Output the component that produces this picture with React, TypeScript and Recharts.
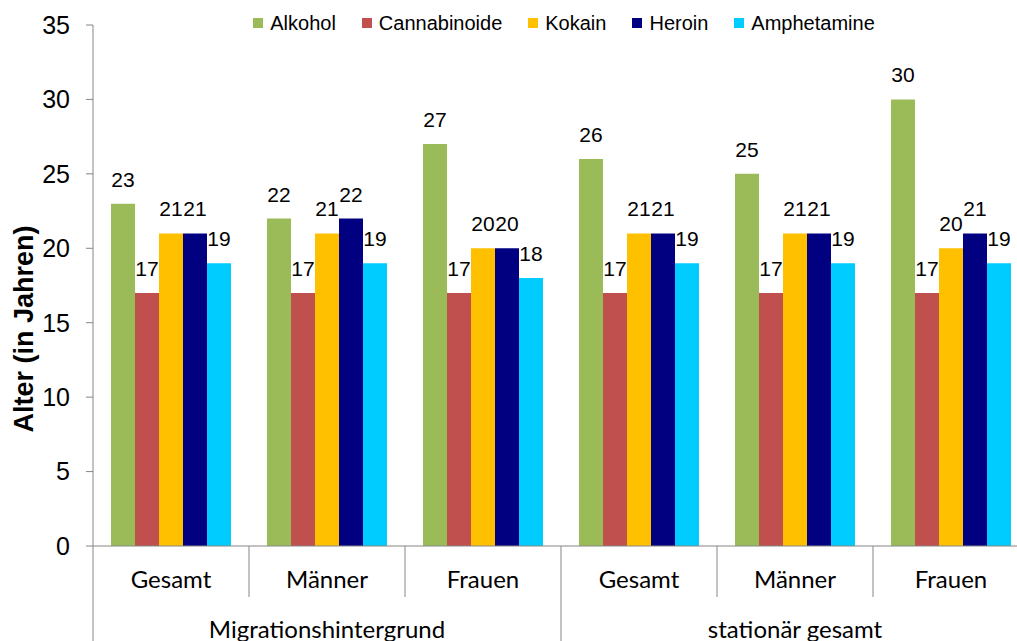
import { BarChart, Bar, XAxis, YAxis, LabelList } from "recharts";

const categories = ["Gesamt", "Männer", "Frauen", "Gesamt", "Männer", "Frauen"];
const groups = ["Migrationshintergrund", "stationär gesamt"];

const alkohol = [23, 22, 27, 26, 25, 30];
const cannabinoide = [17, 17, 17, 17, 17, 17];
const kokain = [21, 21, 20, 21, 21, 20];
const heroin = [21, 22, 20, 21, 21, 21];
const amphetamine = [19, 19, 18, 19, 19, 19];

const yTicks = [0, 5, 10, 15, 20, 25, 30, 35];

const series = [
  { key: "alkohol", name: "Alkohol", values: alkohol, color: "#9BBB59" },
  { key: "cannabinoide", name: "Cannabinoide", values: cannabinoide, color: "#C0504D" },
  { key: "kokain", name: "Kokain", values: kokain, color: "#FFC000" },
  { key: "heroin", name: "Heroin", values: heroin, color: "#000080" },
  { key: "amphetamine", name: "Amphetamine", values: amphetamine, color: "#00CCFF" },
];

const data = categories.map((name, i) => {
  const row: Record<string, number | string> = { idx: i, name };
  series.forEach((s) => (row[s.key] = s.values[i]));
  return row;
});

const CHART_W = 1040;
const CHART_H = 680;
const Y_AXIS_W = 93;
const MARGIN = { top: 25, right: 11, bottom: 0, left: 0 };
const PLOT_BOTTOM = 546;
const BAND = (CHART_W - MARGIN.right - MARGIN.left - Y_AXIS_W) / categories.length;
const GRAY = "#868686";
const ARIAL = "'Liberation Sans', Arial, sans-serif";
const CALIBRI = "Lato, 'Open Sans', sans-serif";

function CategoryTick(props: any) {
  const { x, y, index } = props;
  const i = props.payload?.index ?? index;
  const left = x - BAND / 2;
  const outer = i % 3 === 0;
  return (
    <g>
      <line x1={left} x2={left} y1={y} y2={outer ? y + 150 : y + 51} stroke={GRAY} />
      {i === categories.length - 1 && (
        <line x1={x + BAND / 2} x2={x + BAND / 2} y1={y} y2={y + 150} stroke={GRAY} />
      )}
      <text x={x} y={y + 42} textAnchor="middle" fontFamily={CALIBRI} fontSize={24} fill="#000">
        {categories[i]}
      </text>
      {i % 3 === 1 && (
        <text x={x} y={y + 92} textAnchor="middle" fontFamily={CALIBRI} fontSize={24} fill="#000">
          {groups[Math.floor(i / 3)]}
        </text>
      )}
    </g>
  );
}

export default function App() {
  return (
    <div
      style={{
        position: "fixed",
        left: 0,
        top: 0,
        width: 1017,
        height: 641,
        overflow: "hidden",
        background: "#fff",
      }}
    >
      <div
        style={{
          position: "absolute",
          left: Y_AXIS_W + 3,
          width: BAND * categories.length,
          top: 11,
          height: 24,
          display: "flex",
          justifyContent: "center",
          alignItems: "center",
          gap: 26,
          fontFamily: ARIAL,
          fontSize: 20,
          color: "#000",
          zIndex: 1,
        }}
      >
        {series.map((s) => (
          <div key={s.key} style={{ display: "flex", alignItems: "center", gap: 7 }}>
            <div style={{ width: 10, height: 10, background: s.color }} />
            <span>{s.name}</span>
          </div>
        ))}
      </div>
      <BarChart
        width={CHART_W}
        height={CHART_H}
        data={data}
        margin={MARGIN}
        barCategoryGap={18}
        barGap={0}
      >
        <XAxis
          dataKey="idx"
          type="category"
          interval={0}
          axisLine={{ stroke: GRAY }}
          tickLine={false}
          tickSize={0}
          tickMargin={0}
          height={CHART_H - PLOT_BOTTOM - MARGIN.bottom}
          tick={<CategoryTick />}
        />
        <YAxis
          width={Y_AXIS_W}
          domain={[0, 35]}
          ticks={yTicks}
          interval={0}
          axisLine={{ stroke: GRAY }}
          tickLine={{ stroke: GRAY }}
          tickSize={7}
          tickMargin={16}
          tick={{ fontSize: 25, fill: "#000", fontFamily: ARIAL }}
          label={{
            content: () => (
              <text
                transform="translate(33, 329) rotate(-90)"
                textAnchor="middle"
                fontFamily={ARIAL}
                fontWeight="bold"
                fontSize={27}
                fill="#000"
              >
                Alter (in Jahren)
              </text>
            ),
          }}
        />
        {series.map((s) => (
          <Bar key={s.key} dataKey={s.key} name={s.name} fill={s.color} isAnimationActive={false}>
            <LabelList
              dataKey={s.key}
              position="top"
              offset={17}
              fill="#000"
              fontSize={21}
              fontFamily={ARIAL}
            />
          </Bar>
        ))}
      </BarChart>
    </div>
  );
}
